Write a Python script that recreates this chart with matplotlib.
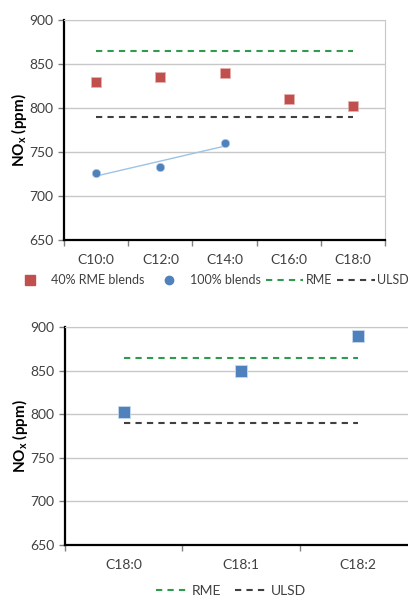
import numpy as np
import matplotlib.pyplot as plt
from matplotlib.lines import Line2D

plt.rcParams['font.family'] = ['Lato', 'DejaVu Sans']

# top chart data
cats_top = ["C10:0", "C12:0", "C14:0", "C16:0", "C18:0"]
rme40 = [830, 835, 840, 810, 802]
blend100 = [726, 733, 760]
rme_ref = 865
ulsd_ref = 790

# bottom chart data
cats_bot = ["C18:0", "C18:1", "C18:2"]
c18_vals = [802, 850, 890]

red = "#C0504D"
blue = "#4F81BD"
green = "#2E9B4E"
dark = "#404040"


def style_axes(ax, ncat, right_frame=True):
    ax.set_ylim(650, 900)
    ax.set_yticks(np.arange(650, 901, 50))
    ax.set_xlim(-0.5, ncat - 0.5)
    ax.set_xticks(np.arange(ncat))
    ax.set_xticks(np.arange(ncat + 1) - 0.5, minor=True)
    ax.tick_params(axis="x", which="major", length=0, pad=10)
    ax.tick_params(axis="x", which="minor", length=4, width=1, color="#808080")
    ax.tick_params(axis="y", length=4, width=1, color="#808080")
    ax.tick_params(labelsize=10, labelcolor="#404040")
    ax.grid(True, axis="y", color="#C8C8C8", lw=1)
    ax.set_axisbelow(True)
    ax.spines["left"].set_color("black")
    ax.spines["left"].set_linewidth(1.6)
    ax.spines["bottom"].set_color("black")
    ax.spines["bottom"].set_linewidth(1.6)
    ax.spines["top"].set_color("#C8C8C8")
    ax.spines["right"].set_color("#C8C8C8")
    ax.spines["right"].set_visible(right_frame)
    ax.set_ylabel(r"NO$_\mathregular{x}$ (ppm)", fontsize=11, fontweight="bold", labelpad=0.5)


fig = plt.figure(figsize=(4.08, 5.97), dpi=100)

#%% top chart
ax1 = fig.add_axes([0.157, 0.598, 0.787, 0.3685])
style_axes(ax1, len(cats_top))
ax1.set_xticklabels(cats_top)
x_top = np.arange(len(cats_top))
ax1.plot(x_top[[0, -1]], [rme_ref, rme_ref], color=green, lw=1.5, dashes=(3, 2.5))
ax1.plot(x_top[[0, -1]], [ulsd_ref, ulsd_ref], color=dark, lw=1.5, dashes=(3, 2.5))
x_b = np.arange(len(blend100))
fit = np.polyfit(x_b, blend100, 1)
ax1.plot(x_b[[0, -1]], np.polyval(fit, x_b[[0, -1]]), color="#9DC3E6", lw=1)
ax1.plot(x_top, rme40, ls="none", marker="s", ms=7, color=red, mec="#E8B0AE", mew=0.5)
ax1.plot(x_b, blend100, ls="none", marker="o", ms=6, color=blue, mec="#B0C8E8", mew=0.5)

h1 = [Line2D([], [], ls="none", marker="s", ms=7, color=red),
      Line2D([], [], ls="none", marker="o", ms=6, color=blue),
      Line2D([], [], color=green, lw=1.5, dashes=(3, 2.5)),
      Line2D([], [], color=dark, lw=1.5, dashes=(3, 2.5))]
fig.legend(h1, ["40% RME blends", "100% blends", "RME", "ULSD"], ncol=4,
           loc="center", bbox_to_anchor=(0.515, 0.531), frameon=False,
           fontsize=9, handlelength=3.0, handletextpad=0.2, columnspacing=0.4,
           borderpad=0, labelcolor="#404040")

#%% bottom chart
ax2 = fig.add_axes([0.159, 0.0871, 0.863, 0.3652])
style_axes(ax2, len(cats_bot), right_frame=False)
ax2.set_xticklabels(cats_bot)
x_bot = np.arange(len(cats_bot))
ax2.plot(x_bot[[0, -1]], [rme_ref, rme_ref], color=green, lw=1.5, dashes=(3, 2.5))
ax2.plot(x_bot[[0, -1]], [ulsd_ref, ulsd_ref], color=dark, lw=1.5, dashes=(3, 2.5))
ax2.plot(x_bot, c18_vals, ls="none", marker="s", ms=8, color=blue, mec="#C8D8F0", mew=0.6,
         clip_on=False)

h2 = [Line2D([], [], color=green, lw=1.5, dashes=(3, 2.5)),
      Line2D([], [], color=dark, lw=1.5, dashes=(3, 2.5))]
fig.legend(h2, ["RME", "ULSD"], ncol=2, loc="center", bbox_to_anchor=(0.566, 0.01),
           frameon=False, fontsize=10, handlelength=2.3, handletextpad=0.3,
           columnspacing=1.0, labelcolor="#404040")

fig.savefig("out.png", dpi=100)
